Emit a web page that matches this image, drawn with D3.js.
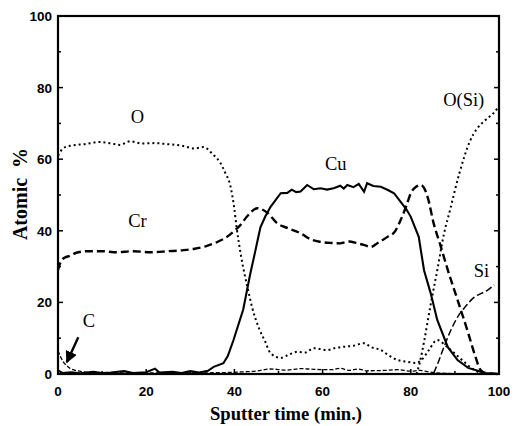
<!DOCTYPE html>
<html>
<head>
<meta charset="utf-8">
<script src="https://cdn.jsdelivr.net/npm/d3@7"></script>
<style>
  body { margin: 0; background: #fff; }
  svg { display: block; }
</style>
</head>
<body>
<script>
// Depth profile: sputter time (min.) vs atomic %

var xTicks = [0, 20, 40, 60, 80, 100];
var yTicks = [0, 20, 40, 60, 80, 100];

// [time, atomic %]
var cuData = [[0,1],[1,0.3],[3,0.5],[5,0.2],[8,0.6],[10,0.3],[12,0.4],[15,0.8],[17,0.3],[20,0.5],[22,1.5],[23,0.4],[26,0.6],[28,0.3],[30,0.8],[32,0.4],[34,0.9],
  [35.3,2],[37.5,3],[38.5,5],[39.8,9.5],[42,18],[43.6,28],[44.5,33],[45.9,41],[47,44],[48.2,46.7],[50.5,50.5],[52,50.6],[53,51.5],[54,50.8],[55,51],
  [56.5,52.8],[58,51.6],[59.5,51.9],[61,51.5],[62.5,51.9],[64,52.6],[64.8,51.8],[65.6,52.8],[67,52.2],[68.2,53.1],[69.4,50.9],[70.1,53.3],[71.5,52.5],
  [73.2,52.3],[74.8,51.4],[76.2,50.5],[77.7,48.1],[79,46],[80,43.9],[81.8,38.3],[83,29],[84.5,22.6],[86,15.1],[88.4,7.5],[90.6,3.9],[93,1.7],[95,1],[96.6,0.3],[100,0]];

var crData = [[0,29],[0.5,31],[1.5,32.5],[2.7,33],[4,33.8],[6.5,34.3],[10,34.3],[13.3,34],[17,34.3],[21,34],[25,34.3],[28.5,34.6],[31,35],[33.8,35.8],
  [36,36.8],[38.3,38.3],[40,40],[41.3,41.5],[43,44.2],[45.2,46.3],[47.5,45],[49.7,42.1],[52,40.8],[55,39.3],[57.5,37.5],[59.5,36.9],[62,36.6],[64,36.5],
  [66,37],[67.9,36.5],[69.5,36],[70.9,35.5],[72.5,36.6],[74.7,38.3],[76.5,40],[77.7,43],[79,47],[80,50.5],[81.2,52.3],[82.3,52.8],[83.2,51.5],[83.8,49.5],
  [85.2,42],[86.8,35.6],[88.4,29],[90.6,20.7],[93,11.5],[94.4,5.8],[95.9,1],[97,0.3],[100,0]];

var oData = [[0,61],[0.5,62],[1.1,63],[3,63.8],[6,64.2],[9.5,64.8],[12,64.4],[14,64],[16.4,65],[19,64.4],[22,64.5],[24.7,64.2],[28,63.8],[31,63],[33,63.4],
  [35,61.5],[36.8,59],[38,56],[39,53],[40,46],[40.5,41],[41.5,33],[43,24],[44,18.7],[45.5,13],[47,9],[48.2,5.8],[50.5,4.5],[52.5,5.5],[54.3,6.2],[56,6],
  [58,7.2],[61,6.7],[63,7.3],[64.8,7.6],[67,7.9],[69.4,8.6],[71,7.5],[73.2,6.7],[75,5.2],[77,3.9],[79.3,3.4],[81.1,3.1],[82.5,4],[84,6.5],[86,9.5],
  [88,7.8],[89.9,5.8],[92,3.5],[94.4,1.1],[97.5,0],[100,0]];

var oSiData = [[81.3,0],[82,3],[83,9],[84.4,18.7],[86,29],[87.5,39],[88.9,45.8],[91,56],[93.4,65],[95,68.5],[97,71],[99.5,74],[100,75]];

var siData = [[85.2,0.3],[86.3,3.5],[87.5,7.5],[89,12],[90.6,15.9],[92.5,19],[94.4,21.5],[96,22.5],[97.5,23.5],[98.9,24.9]];

var cData = [[0,6.5],[0.5,5],[1.2,3.4],[2,2.3],[2.7,1.6],[4,1],[5.8,0.6],[8,0.4],[12,0.3],[20,0.3],[30,0.3],[38,0.4],[42,0.6],[45,0.8],[48,1.4],
  [52,1.1],[55,1.5],[58,1.3],[62,1.2],[64,1.6],[66,1],[68,1.4],[70,0.9],[74,1],[77,1.2],[80,0.8],[82,1],[84,0.6],[86,0.3],[90,0.1],[100,0]];

// Labels: text, x (min), y (%)
var labels = [["O", 18, 70], ["Cr", 18, 41], ["Cu", 63, 57], ["O(Si)", 92, 75], ["Si", 96, 27], ["C", 7, 13]];

var W = 516, H = 426;
var mLeft = 58, mRight = 499, mTop = 16, mBottom = 374;

var svg = d3.select("body").append("svg")
  .attr("width", W)
  .attr("height", H);

var x = d3.scaleLinear().domain([0, 100]).range([mLeft, mRight]);
var y = d3.scaleLinear().domain([0, 100]).range([mBottom, mTop]);

// Frame with inward ticks
svg.append("rect")
  .attr("x", mLeft).attr("y", mTop)
  .attr("width", mRight - mLeft).attr("height", mBottom - mTop)
  .attr("fill", "none").attr("stroke", "#000").attr("stroke-width", 2.2);

var minor = d3.range(0, 101, 10);
minor.forEach(function (v) {
  var len = (v % 20 == 0) ? 5 : 3;
  svg.append("line").attr("x1", mLeft).attr("x2", mLeft + len).attr("y1", y(v)).attr("y2", y(v)).attr("stroke", "#000").attr("stroke-width", 1.5);
  svg.append("line").attr("x1", mRight).attr("x2", mRight - len).attr("y1", y(v)).attr("y2", y(v)).attr("stroke", "#000").attr("stroke-width", 1.5);
  svg.append("line").attr("x1", x(v)).attr("x2", x(v)).attr("y1", mBottom).attr("y2", mBottom - len).attr("stroke", "#000").attr("stroke-width", 1.5);
});

svg.selectAll(".xt").data(xTicks).enter().append("text")
  .attr("x", function (d) { return x(d); })
  .attr("y", mBottom + 22)
  .attr("text-anchor", "middle")
  .attr("font-family", "Liberation Sans, Arial, sans-serif")
  .attr("font-weight", "bold")
  .attr("font-size", 13.5)
  .text(function (d) { return d; });

svg.selectAll(".yt").data(yTicks).enter().append("text")
  .attr("x", mLeft - 6)
  .attr("y", function (d) { return y(d) + 5; })
  .attr("text-anchor", "end")
  .attr("font-family", "Liberation Sans, Arial, sans-serif")
  .attr("font-weight", "bold")
  .attr("font-size", 13.5)
  .text(function (d) { return d; });

// Axis titles
svg.append("text")
  .attr("x", 286).attr("y", 420)
  .attr("text-anchor", "middle")
  .attr("font-family", "Liberation Serif, Times New Roman, serif")
  .attr("font-weight", "bold")
  .attr("font-size", 18.6)
  .text("Sputter time (min.)");

svg.append("text")
  .attr("transform", "translate(27,194) rotate(-90)")
  .attr("text-anchor", "middle")
  .attr("font-family", "Liberation Serif, Times New Roman, serif")
  .attr("font-weight", "bold")
  .attr("font-size", 20)
  .style("white-space", "pre")
  .text("Atomic  %");

// Curves
var line = d3.line()
  .x(function (d) { return x(d[0]); })
  .y(function (d) { return y(d[1]); });
var smooth = d3.line()
  .x(function (d) { return x(d[0]); })
  .y(function (d) { return y(d[1]); })
  .curve(d3.curveMonotoneX);

function draw(data, gen, width, dash) {
  svg.append("path")
    .attr("d", gen(data))
    .attr("fill", "none")
    .attr("stroke", "#000")
    .attr("stroke-width", width)
    .attr("stroke-dasharray", dash);
}

draw(cData, smooth, 1.3, "4,2");
draw(siData, smooth, 1.5, "7,3");
draw(oData, smooth, 2, "2,3");
draw(oSiData, smooth, 2, "2,3");
draw(crData, smooth, 2.4, "8,4");
draw(cuData, line, 2.1, null);

// Series labels
svg.selectAll(".lbl").data(labels).enter().append("text")
  .attr("x", function (d) { return x(d[1]); })
  .attr("y", function (d) { return y(d[2]); })
  .attr("text-anchor", "middle")
  .attr("font-family", "Liberation Serif, Times New Roman, serif")
  .attr("font-size", 18.5)
  .text(function (d) { return d[0]; });

// Arrow from C label to its curve
svg.append("defs").append("marker")
  .attr("id", "ah").attr("viewBox", "0 0 10 10")
  .attr("refX", 9).attr("refY", 5)
  .attr("markerWidth", 5).attr("markerHeight", 5)
  .attr("orient", "auto")
  .append("path").attr("d", "M0,0L10,5L0,10z").attr("fill", "#000");

svg.append("line")
  .attr("x1", x(4.6)).attr("y1", y(10.3))
  .attr("x2", x(2)).attr("y2", y(3.3))
  .attr("stroke", "#000").attr("stroke-width", 2.4)
  .attr("marker-end", "url(#ah)");
</script>
</body>
</html>
